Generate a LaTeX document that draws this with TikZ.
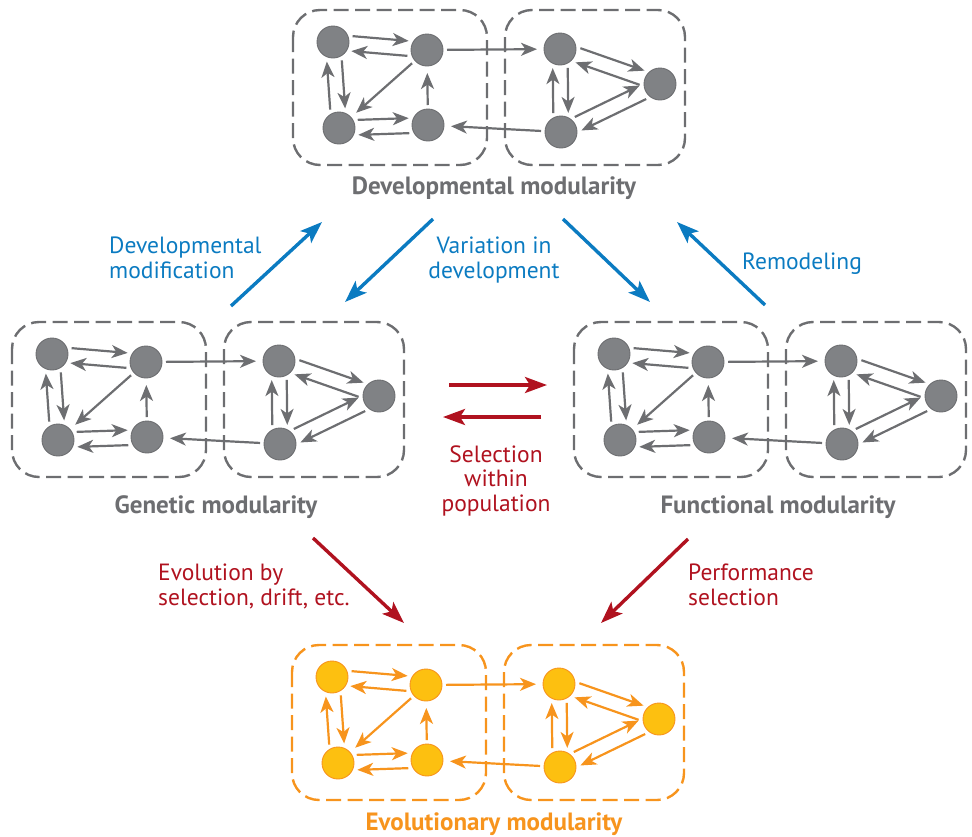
\documentclass[tikz,border=0pt]{standalone}
\usepackage{fontspec}
\setmainfont{PT Sans}
\usetikzlibrary{calc,arrows.meta}

\definecolor{netgray}{HTML}{6D6E71}
\definecolor{cellgray}{HTML}{808285}
\definecolor{netorange}{HTML}{F7941D}
\definecolor{cellyellow}{HTML}{FDC010}
\definecolor{flowblue}{HTML}{0B7BC1}
\definecolor{flowred}{HTML}{B0121F}

\tikzset{
  modbox/.style={line width=2.4pt, dash pattern=on 15pt off 6.5pt, rounded corners=27pt},
  cell/.style={circle, minimum size=32pt, inner sep=0pt, line width=0.9pt},
  link/.style={line width=2.2pt, -{Stealth[length=16pt,width=13pt,inset=4.5pt]}},
  pairlink/.style={link, shorten <=19pt, shorten >=19pt},
  onelink/.style={link, shorten <=20pt, shorten >=23pt},
  flow/.style={line width=3.4pt, -{Stealth[length=22pt,width=16pt,inset=5pt]}},
  caption/.style={font=\bfseries\fontsize{25}{29}\selectfont, anchor=base},
  note/.style={font=\fontsize{23.5}{24.5}\selectfont, anchor=base west, align=left, inner sep=0pt},
}

% two opposite links between a pair of cells, each kept to its own side
\newcommand\twoway[2]{%
  \draw[pairlink] ($(#1)!7.5pt!90:(#2)$) -- ($(#2)!7.5pt!-90:(#1)$);
  \draw[pairlink] ($(#2)!7.5pt!90:(#1)$) -- ($(#1)!7.5pt!-90:(#2)$);}

% a two-module network: #1 name prefix, #2,#3 top-left corner,
% #4 line colour, #5 cell fill, #6 cell outline
\newcommand\modnet[6]{%
\begin{scope}[shift={(#2,#3)}, color=#4]
  \draw[modbox] (0,0) rectangle (194,155);
  \draw[modbox] (212,0) rectangle (392,155);
  \node[cell, fill=#5, draw=#6] (#1A) at (40,32) {};
  \node[cell, fill=#5, draw=#6] (#1B) at (134,40) {};
  \node[cell, fill=#5, draw=#6] (#1C) at (46,118) {};
  \node[cell, fill=#5, draw=#6] (#1D) at (135,115) {};
  \node[cell, fill=#5, draw=#6] (#1E) at (267,39) {};
  \node[cell, fill=#5, draw=#6] (#1F) at (367,74) {};
  \node[cell, fill=#5, draw=#6] (#1G) at (268,122) {};
  \twoway{#1A}{#1B}
  \twoway{#1A}{#1C}
  \twoway{#1C}{#1D}
  \twoway{#1E}{#1F}
  \twoway{#1G}{#1F}
  \twoway{#1E}{#1G}
  \draw[onelink] (#1B.center) -- (#1C.center);
  \draw[onelink] (#1D.center) -- (#1B.center);
  \draw[onelink] (#1B.center) -- (#1E.center);
  \draw[onelink] (#1G.center) -- (#1D.center);
\end{scope}}

\begin{document}
\begin{tikzpicture}[x=1pt, y=-1pt]
  \useasboundingbox (0,0) rectangle (972,836);

  % the four networks
  \modnet{dv}{293}{10}{netgray}{cellgray}{netgray}
  \modnet{gn}{12}{322}{netgray}{cellgray}{netgray}
  \modnet{fn}{574}{322}{netgray}{cellgray}{netgray}
  \modnet{ev}{292}{645}{netorange}{cellyellow}{netorange}

  % captions
  \node[caption, text=netgray] (capdv) at (494,194) {Developmental modularity};
  \node[caption, text=netgray] (capgn) at (216,513) {Genetic modularity};
  \node[caption, text=netgray] (capfn) at (778,513) {Functional modularity};
  \node[caption, text=netorange] (capev) at (494,830) {Evolutionary modularity};

  % free ends of the process arrows
  \coordinate (b1s) at (231,306); \coordinate (b1e) at (322,222);
  \coordinate (b2s) at (433,219); \coordinate (b2e) at (345,302);
  \coordinate (b3s) at (563,219); \coordinate (b3e) at (650,302);
  \coordinate (b4s) at (765,305); \coordinate (b4e) at (677,222);
  \coordinate (r1s) at (449,385); \coordinate (r1e) at (547,385);
  \coordinate (r2s) at (541,417); \coordinate (r2e) at (443,417);
  \coordinate (r3s) at (313,538); \coordinate (r3e) at (404,623);
  \coordinate (r4s) at (688,539); \coordinate (r4e) at (601,623);

  \draw[flow, flowblue] (b1s) -- (b1e);
  \draw[flow, flowblue] (b2s) -- (b2e);
  \draw[flow, flowblue] (b3s) -- (b3e);
  \draw[flow, flowblue] (b4s) -- (b4e);
  \draw[flow, flowred] (r1s) -- (r1e);
  \draw[flow, flowred] (r2s) -- (r2e);
  \draw[flow, flowred] (r3s) -- (r3e);
  \draw[flow, flowred] (r4s) -- (r4e);

  % process labels (anchored on the baseline of their last line)
  \node[note, text=flowblue] (lbdm) at (109,278) {Developmental\\modification};
  \node[note, text=flowblue, anchor=base, align=center] (lbvd) at (494,278) {Variation in\\development};
  \node[note, text=flowblue] (lbrm) at (742,269) {Remodeling};
  \node[note, text=flowred, anchor=base, align=center] (lbsw) at (496,511) {Selection\\within\\population};
  \node[note, text=flowred] (lbev) at (158,605) {Evolution by\\selection, drift, etc.};
  \node[note, text=flowred] (lbps) at (688,605) {Performance\\selection};
\end{tikzpicture}
\end{document}
